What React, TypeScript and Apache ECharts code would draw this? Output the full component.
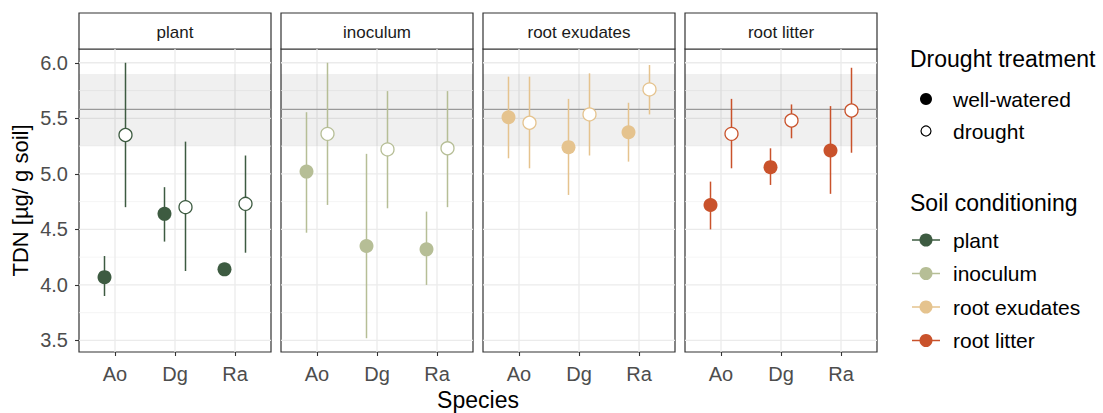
import React, { useEffect, useRef } from "react";
import * as echarts from "echarts";

// ---------- data ----------
const species = ["Ao", "Dg", "Ra"];
const conditioning = ["plant", "inoculum", "root exudates", "root litter"];
const conditioningColors = ["#3D5B41", "#B6BE96", "#E5C38E", "#C9522B"];
const droughtLevels = ["well-watered", "drought"];

// [mean, lower, upper] per species (Ao, Dg, Ra)
const plantWellWatered = [[4.07, 3.9, 4.26], [4.64, 4.39, 4.88], [4.14, 4.12, 4.16]];
const plantDrought = [[5.35, 4.7, 6.0], [4.7, 4.125, 5.29], [4.73, 4.29, 5.165]];
const inoculumWellWatered = [[5.02, 4.47, 5.555], [4.35, 3.52, 5.18], [4.32, 4.0, 4.66]];
const inoculumDrought = [[5.36, 4.72, 6.0], [5.22, 4.69, 5.745], [5.23, 4.7, 5.745]];
const exudatesWellWatered = [[5.51, 5.14, 5.875], [5.24, 4.81, 5.675], [5.375, 5.11, 5.64]];
const exudatesDrought = [[5.46, 5.05, 5.875], [5.535, 5.165, 5.905], [5.76, 5.535, 5.98]];
const litterWellWatered = [[4.72, 4.5, 4.93], [5.06, 4.9, 5.23], [5.21, 4.82, 5.61]];
const litterDrought = [[5.36, 5.05, 5.675], [5.48, 5.32, 5.625], [5.57, 5.19, 5.955]];

// reference (control) mean and interval
const refMean = 5.58;
const refLower = 5.25;
const refUpper = 5.9;

const yTicks = [3.5, 4.0, 4.5, 5.0, 5.5, 6.0];
const yMinorTicks = [3.75, 4.25, 4.75, 5.25, 5.75];
const yMin = 3.396;
const yMax = 6.124;

// ---------- layout ----------
const W = 1103;
const H = 413;
const FONT = "'Liberation Sans', Arial, sans-serif";
const panelLeft0 = 79;
const panelStep = 202;
const panelW = 192;
const panelTop = 49;
const panelH = 303;
const stripTop = 13;
const dodge = 0.175;
const xMin = 0.4;
const xMax = 3.6;

const groups = [
  { ww: plantWellWatered, dr: plantDrought },
  { ww: inoculumWellWatered, dr: inoculumDrought },
  { ww: exudatesWellWatered, dr: exudatesDrought },
  { ww: litterWellWatered, dr: litterDrought },
];

function buildOption() {
  const grid: any[] = [];
  const xAxis: any[] = [];
  const yAxis: any[] = [];
  const series: any[] = [];
  const graphic: any[] = [];

  conditioning.forEach((name, k) => {
    const left = panelLeft0 + k * panelStep;
    const color = conditioningColors[k];
    grid.push({
      left,
      top: panelTop,
      width: panelW,
      height: panelH,
      show: true,
      backgroundColor: "#ffffff",
      borderColor: "#333333",
      borderWidth: 1.2,
      containLabel: false,
    });
    xAxis.push({
      type: "value",
      gridIndex: k,
      min: xMin,
      max: xMax,
      splitLine: { show: false },
      axisLine: { show: false },
      axisTick: {
        show: true,
        customValues: [1, 2, 3],
        length: 4,
        lineStyle: { color: "#333333", width: 1.1 },
      },
      axisLabel: {
        show: true,
        customValues: [1, 2, 3],
        formatter: (v: number) => species[Math.round(v) - 1] ?? "",
        color: "#4D4D4D",
        fontSize: 20,
        fontFamily: FONT,
        margin: 12,
      },
    });
    yAxis.push({
      type: "value",
      gridIndex: k,
      min: yMin,
      max: yMax,
      splitLine: { show: false },
      axisLine: { show: false },
      axisTick: {
        show: k === 0,
        customValues: yTicks,
        length: 4,
        lineStyle: { color: "#333333", width: 1.1 },
      },
      axisLabel: {
        show: k === 0,
        customValues: yTicks,
        formatter: (v: number) => v.toFixed(1),
        color: "#4D4D4D",
        fontSize: 20,
        fontFamily: FONT,
        margin: 11,
      },
    });

    // background: grid lines, reference band, reference line
    series.push({
      type: "custom",
      xAxisIndex: k,
      yAxisIndex: k,
      silent: true,
      z: 1,
      data: [0],
      renderItem: (_p: any, api: any) => {
        const children: any[] = [];
        const tl = api.coord([xMin, yMax]);
        const br = api.coord([xMax, yMin]);
        yMinorTicks.forEach((v) => {
          const y = api.coord([xMin, v])[1];
          children.push({
            type: "line",
            shape: { x1: tl[0], y1: y, x2: br[0], y2: y },
            style: { stroke: "#F2F2F2", lineWidth: 0.8 },
          });
        });
        yTicks.forEach((v) => {
          const y = api.coord([xMin, v])[1];
          children.push({
            type: "line",
            shape: { x1: tl[0], y1: y, x2: br[0], y2: y },
            style: { stroke: "#EBEBEB", lineWidth: 1.3 },
          });
        });
        [1, 2, 3].forEach((v) => {
          const x = api.coord([v, yMin])[0];
          children.push({
            type: "line",
            shape: { x1: x, y1: tl[1], x2: x, y2: br[1] },
            style: { stroke: "#EBEBEB", lineWidth: 1.3 },
          });
        });
        const bt = api.coord([xMin, refUpper])[1];
        const bb = api.coord([xMin, refLower])[1];
        children.push({
          type: "rect",
          shape: { x: tl[0], y: bt, width: br[0] - tl[0], height: bb - bt },
          style: { fill: "rgba(0,0,0,0.06)" },
        });
        const ym = api.coord([xMin, refMean])[1];
        children.push({
          type: "line",
          shape: { x1: tl[0], y1: ym, x2: br[0], y2: ym },
          style: { stroke: "#9A9A9A", lineWidth: 1.1 },
        });
        return { type: "group", children };
      },
    });

    const g = groups[k];
    const bars: any[] = [];
    g.ww.forEach((d, i) => bars.push([i + 1 - dodge, d[0], d[1], d[2]]));
    g.dr.forEach((d, i) => bars.push([i + 1 + dodge, d[0], d[1], d[2]]));
    series.push({
      type: "custom",
      xAxisIndex: k,
      yAxisIndex: k,
      silent: true,
      z: 3,
      data: bars,
      renderItem: (_p: any, api: any) => {
        const lo = api.coord([api.value(0), api.value(2)]);
        const hi = api.coord([api.value(0), api.value(3)]);
        return {
          type: "line",
          shape: { x1: lo[0], y1: lo[1], x2: hi[0], y2: hi[1] },
          style: { stroke: color, lineWidth: 1.5 },
        };
      },
    });
    series.push({
      type: "scatter",
      name: conditioning[k] + " " + droughtLevels[0],
      xAxisIndex: k,
      yAxisIndex: k,
      z: 4,
      symbol: "circle",
      symbolSize: 14,
      itemStyle: { color, opacity: 1 },
      data: g.ww.map((d, i) => [i + 1 - dodge, d[0]]),
    });
    series.push({
      type: "scatter",
      name: conditioning[k] + " " + droughtLevels[1],
      xAxisIndex: k,
      yAxisIndex: k,
      z: 4,
      symbol: "circle",
      symbolSize: 13,
      itemStyle: { color: "#ffffff", borderColor: color, borderWidth: 1.3, opacity: 1 },
      data: g.dr.map((d, i) => [i + 1 + dodge, d[0]]),
    });

    // facet strip
    graphic.push({
      type: "rect",
      shape: { x: left, y: stripTop, width: panelW, height: panelTop - stripTop },
      style: { fill: "#ffffff", stroke: "#333333", lineWidth: 1.2 },
    });
    graphic.push({
      type: "text",
      x: left + panelW / 2,
      y: (stripTop + panelTop) / 2 + 1,
      style: {
        text: name,
        fill: "#1A1A1A",
        font: `17px ${FONT}`,
        align: "center",
        verticalAlign: "middle",
      },
    });
  });

  // axis titles
  graphic.push({
    type: "text",
    x: 20,
    y: panelTop + panelH / 2,
    rotation: Math.PI / 2,
    style: {
      text: "TDN [µg/ g soil]",
      fill: "#000000",
      font: `22px ${FONT}`,
      align: "center",
      verticalAlign: "middle",
    },
  });
  graphic.push({
    type: "text",
    x: (panelLeft0 + panelLeft0 + 3 * panelStep + panelW) / 2,
    y: 400,
    style: {
      text: "Species",
      fill: "#000000",
      font: `23px ${FONT}`,
      align: "center",
      verticalAlign: "middle",
    },
  });

  // legends
  const legX = 910;
  const keyX = 926;
  const labX = 953;
  graphic.push({
    type: "text",
    x: legX,
    y: 59,
    style: { text: "Drought treatment", fill: "#000", font: `23px ${FONT}`, verticalAlign: "middle" },
  });
  const dYs = [99, 131];
  droughtLevels.forEach((lab, i) => {
    graphic.push({
      type: "circle",
      shape: { cx: keyX, cy: dYs[i], r: i === 0 ? 6 : 5 },
      style: i === 0 ? { fill: "#000" } : { fill: "#fff", stroke: "#000", lineWidth: 1.2 },
    });
    graphic.push({
      type: "text",
      x: labX,
      y: dYs[i],
      style: { text: lab, fill: "#000", font: `21px ${FONT}`, verticalAlign: "middle" },
    });
  });
  graphic.push({
    type: "text",
    x: legX,
    y: 203,
    style: { text: "Soil conditioning", fill: "#000", font: `23px ${FONT}`, verticalAlign: "middle" },
  });
  const cYs = [240, 273.5, 307, 340.5];
  conditioning.forEach((lab, i) => {
    const c = conditioningColors[i];
    graphic.push({
      type: "line",
      shape: { x1: 912, y1: cYs[i], x2: 940, y2: cYs[i] },
      style: { stroke: c, lineWidth: 1.5 },
    });
    graphic.push({
      type: "circle",
      shape: { cx: keyX, cy: cYs[i], r: 6.5 },
      style: { fill: c },
    });
    graphic.push({
      type: "text",
      x: labX,
      y: cYs[i],
      style: { text: lab, fill: "#000", font: `21px ${FONT}`, verticalAlign: "middle" },
    });
  });

  return {
    animation: false,
    backgroundColor: "#ffffff",
    textStyle: { fontFamily: FONT },
    grid,
    xAxis,
    yAxis,
    series,
    graphic,
  };
}

export default function App() {
  const ref = useRef<HTMLDivElement>(null);
  useEffect(() => {
    document.body.style.margin = "0";
    const chart = echarts.init(ref.current!, null, { renderer: "svg" });
    chart.setOption(buildOption() as any);
    return () => chart.dispose();
  }, []);
  return <div ref={ref} style={{ width: W, height: H }} />;
}
